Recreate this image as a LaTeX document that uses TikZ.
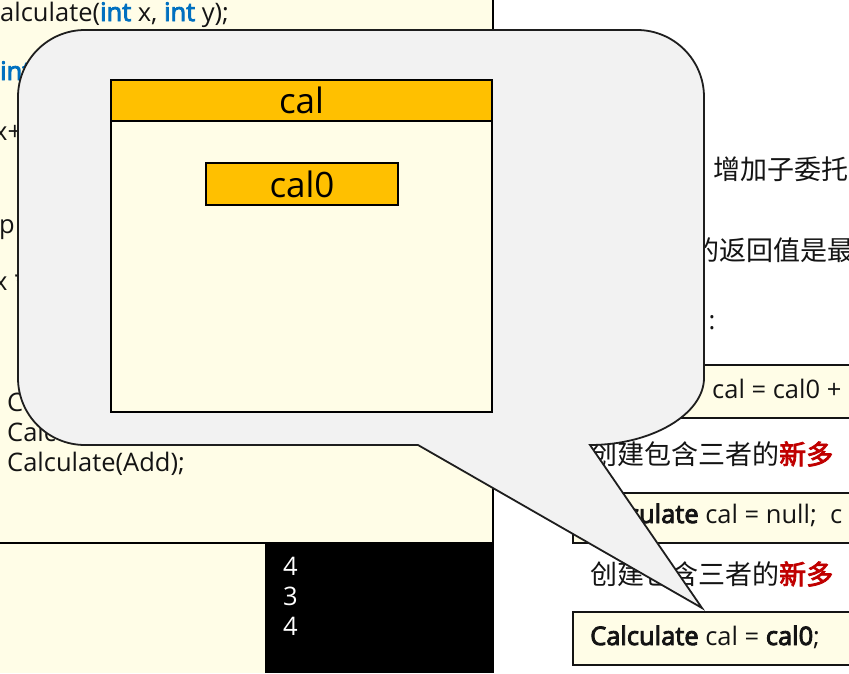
\documentclass[tikz,border=0pt]{standalone}
\usepackage{fontspec}
\setmainfont{Open Sans}[AutoFakeBold=3.5]
\newfontfamily\cjk[AutoFakeBold=3]{Noto Sans CJK SC}
\definecolor{codebg}{RGB}{255,253,231}
\definecolor{calloutfill}{RGB}{242,242,242}
\definecolor{calloutline}{RGB}{30,30,30}
\definecolor{hdrorange}{RGB}{255,192,0}
\definecolor{kwblue}{RGB}{0,112,192}
\definecolor{hired}{RGB}{192,0,0}
\definecolor{codetext}{RGB}{20,20,20}
\begin{document}
\begin{tikzpicture}[x=1pt,y=-1pt,
  code/.style={inner sep=0pt, anchor=base west, font=\fontsize{25.5}{30}\selectfont, text=codetext},
  cjktext/.style={inner sep=0pt, anchor=west, font=\cjk\fontsize{27}{32}\selectfont, text=codetext},
  panelline/.style={draw=black, line width=1.6pt},
  codebox/.style={draw=codetext, line width=1.8pt, fill=codebg},
  callout/.style={draw=calloutline, line width=1.8pt, fill=calloutfill, line join=miter},
  orangebox/.style={draw=black, line width=1.8pt, fill=hdrorange, inner sep=0pt,
    font=\fontsize{35}{38}\selectfont, text=black}
]
\useasboundingbox (0,0) rectangle (849,673);
\clip (0,0) rectangle (849,673);
% backgrounds
\fill[white] (0,0) rectangle (849,673);
\fill[codebg] (0,0) rectangle (493,673);
\fill[black] (265,543) rectangle (493,673);
\draw[panelline] (0,543) -- (493,543);
\draw[panelline] (493,0) -- (493,673);
% left code fragments
\node[code] (l1) at (0,21) {alculate(\textcolor{kwblue}{\textbf{int}} x, \textcolor{kwblue}{\textbf{int}} y);};
\node[code, text=kwblue, font=\fontsize{25.5}{30}\selectfont\bfseries] (l2) at (0,80) {int};
\node[code] (l3) at (-6,140) {x+};
\node[code] (l4) at (-1,233) {p};
\node[code] (l5) at (-6,290) {x *};
\node[code] (l6) at (7,411) {C};
\node[code] (l7) at (7,441) {Calc};
\node[code] (l8) at (7,471) {Calculate(Add);};
% console output
\node[code, text=white] (o1) at (283,575) {4};
\node[code, text=white] (o2) at (283,605) {3};
\node[code, text=white] (o3) at (283,635) {4};
% right side text and code boxes
\node[cjktext] (t1) at (713,169) {增加子委托};
\node[cjktext] (t2) at (692,250) {的返回值是最};
\node[code, anchor=center] (t3) at (712,323) {:};
\draw[codebox] (573,365) rectangle (860,418);
\node[code] (b1t) at (712,398) {cal = cal0 +};
\node[cjktext] (t4) at (590,454) {创建包含三者的\textcolor{hired}{\textbf{新多}}};
\draw[codebox] (573,493) rectangle (860,543);
\node[code] (b2t) at (590,523) {\textbf{Calculate} cal = null;\ \ c};
\node[cjktext] (t5) at (590,574) {创建包含三者的\textcolor{hired}{\textbf{新多}}};
\draw[codebox] (573,612) rectangle (860,665);
\node[code] (b3t) at (590,645) {\textbf{Calculate} cal = \textbf{cal0};};
% callout
\draw[callout] (85,30) -- (637,30)
  .. controls (674,30) and (704,60) .. (704,97) -- (704,378)
  .. controls (704,414) and (652,445) .. (590,445) -- (702,608) -- (418,445)
  -- (85,445) .. controls (48,445) and (18,415) .. (18,378) -- (18,97)
  .. controls (18,60) and (48,30) .. (85,30) -- cycle;
% inner delegate box
\draw[draw=black, line width=1.8pt, fill=codebg] (111,80) rectangle (492,412);
\node[orangebox, minimum width=381pt, minimum height=41pt] (cal) at (301.5,100.5) {cal};
\node[orangebox, minimum width=192pt, minimum height=42pt] (cal0) at (302,184) {cal0};
\end{tikzpicture}
\end{document}
